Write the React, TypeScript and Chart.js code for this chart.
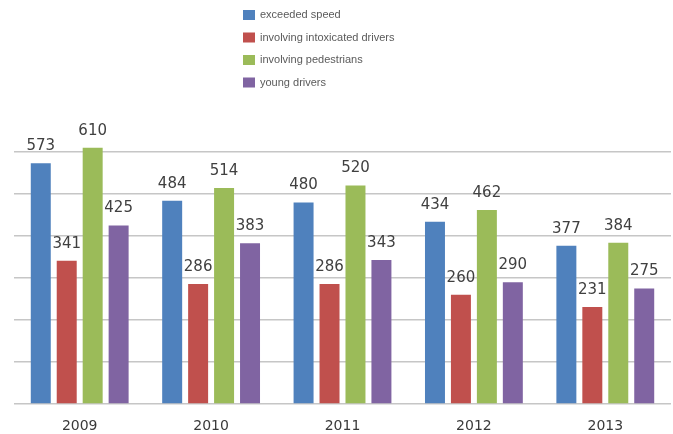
import React, { useEffect, useRef } from "react";
import { Chart, registerables } from "chart.js";

Chart.register(...registerables);

const categories = ["2009", "2010", "2011", "2012", "2013"];
const seriesNames = [
  "exceeded speed",
  "involving intoxicated drivers",
  "involving pedestrians",
  "young drivers",
];
const exceededSpeed = [573, 484, 480, 434, 377];
const intoxicated = [341, 286, 286, 260, 231];
const pedestrians = [610, 514, 520, 462, 384];
const youngDrivers = [425, 383, 343, 290, 275];
const colors = ["#4F81BD", "#C0504D", "#9BBB59", "#8064A2"];

const labelPlugin = {
  id: "valueLabels",
  afterDatasetsDraw(chart: any) {
    const ctx = chart.ctx;
    ctx.save();
    ctx.font = "15px 'DejaVu Sans', sans-serif";
    ctx.fillStyle = "#404040";
    ctx.textAlign = "center";
    ctx.textBaseline = "middle";
    chart.data.datasets.forEach((ds: any, i: number) => {
      const meta = chart.getDatasetMeta(i);
      meta.data.forEach((bar: any, j: number) => {
        ctx.fillText(String(ds.data[j]), bar.x, bar.y - 17);
      });
    });
    ctx.restore();
  },
};

const legendPlugin = {
  id: "stackLegend",
  afterDraw(chart: any) {
    const ctx = chart.ctx;
    ctx.save();
    ctx.font = "11px 'Liberation Sans', Arial, sans-serif";
    ctx.textBaseline = "middle";
    ctx.textAlign = "left";
    chart.data.datasets.forEach((ds: any, i: number) => {
      const cy = 15 + i * 22.5;
      ctx.fillStyle = ds.backgroundColor;
      ctx.fillRect(243, cy - 5, 12, 10);
      ctx.fillStyle = "#5a5a5a";
      ctx.fillText(ds.label, 260, cy);
    });
    ctx.restore();
  },
};

export default function App() {
  const ref = useRef<HTMLCanvasElement | null>(null);
  useEffect(() => {
    document.body.style.margin = "0";
    if (!ref.current) return;
    const seriesData = [exceededSpeed, intoxicated, pedestrians, youngDrivers];
    const chart = new Chart(ref.current, {
      type: "bar",
      data: {
        labels: categories,
        datasets: seriesNames.map((name, i) => ({
          label: name,
          data: seriesData[i],
          backgroundColor: colors[i],
          categoryPercentage: 0.79,
          barPercentage: 0.77,
        })),
      },
      options: {
        animation: false,
        responsive: false,
        layout: { padding: { top: 110, left: 14, right: 2, bottom: 0 } },
        plugins: { legend: { display: false }, tooltip: { enabled: false } },
        scales: {
          x: {
            grid: { display: false, drawTicks: false },
            border: { display: false },
            afterFit: (axis: any) => {
              axis.height = 30;
            },
            ticks: {
              padding: 14,
              color: "#3a3a3a",
              font: { size: 14, family: "'DejaVu Sans', sans-serif" },
            },
          },
          y: {
            min: 0,
            max: 700,
            ticks: { display: false, stepSize: 100 },
            border: { display: false },
            grid: {
              drawTicks: false,
              color: (c: any) => (c.tick && c.tick.value > 600 ? "rgba(0,0,0,0)" : "#C6C6C6"),
              lineWidth: 1.5,
            },
          },
        },
      },
      plugins: [labelPlugin, legendPlugin],
    });
    return () => chart.destroy();
  }, []);
  return <canvas ref={ref} width={673} height={434} style={{ display: "block" }} />;
}
